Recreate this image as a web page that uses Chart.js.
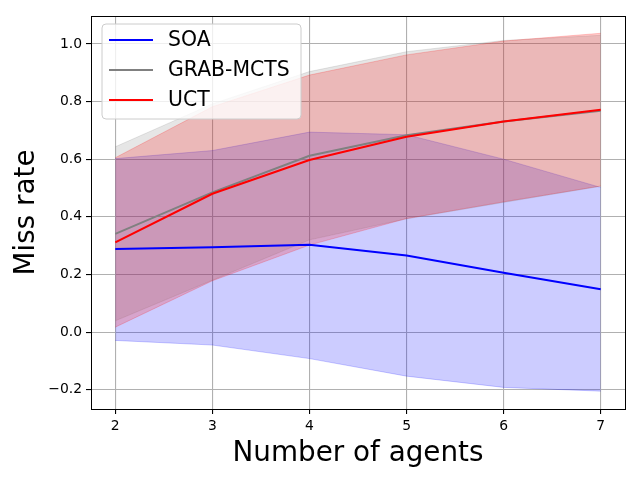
<!DOCTYPE html>
<html>
<head>
<meta charset="utf-8">
<script src="https://cdn.jsdelivr.net/npm/chart.js@4"></script>
<style>
  html, body { margin: 0; padding: 0; background: #fff; }
  #wrap { width: 640px; height: 480px; }
</style>
</head>
<body>
<div id="wrap"><canvas id="chart" width="640" height="480"></canvas></div>
<script>
// data
const agents = [2, 3, 4, 5, 6, 7];
const xTicks = [2, 3, 4, 5, 6, 7];
const yTicks = [-0.2, 0.0, 0.2, 0.4, 0.6, 0.8, 1.0];

const soaMean  = [0.288, 0.294, 0.303, 0.266, 0.206, 0.149];
const soaUpper = [0.602, 0.630, 0.694, 0.685, 0.600, 0.502];
const soaLower = [-0.029, -0.045, -0.092, -0.153, -0.192, -0.205];

const grabMean  = [0.341, 0.485, 0.612, 0.683, 0.731, 0.768];
const grabUpper = [0.643, 0.792, 0.904, 0.973, 1.012, 1.030];
const grabLower = [0.039, 0.180, 0.320, 0.393, 0.450, 0.506];

const uctMean  = [0.311, 0.480, 0.597, 0.678, 0.731, 0.772];
const uctUpper = [0.605, 0.782, 0.892, 0.962, 1.010, 1.037];
const uctLower = [0.017, 0.178, 0.302, 0.394, 0.452, 0.507];

const legendNames = ['SOA', 'GRAB-MCTS', 'UCT'];
const lineColors = ['#0000ff', '#808080', '#ff0000'];

const pts = arr => agents.map((a, i) => ({ x: a, y: arr[i] }));
const FONT = 'DejaVu Sans';

function band(upper, lower, rgb, order) {
    const c = `rgba(${rgb},0.2)`;
    return [
        { data: pts(upper), borderColor: c, backgroundColor: c, borderWidth: 1,
          pointRadius: 0, fill: '+1', order: order, tension: 0 },
        { data: pts(lower), borderColor: c, backgroundColor: c, borderWidth: 1,
          pointRadius: 0, fill: false, order: order, tension: 0 }
    ];
}

function line(arr, color, order) {
    return { data: pts(arr), borderColor: color, backgroundColor: color, borderWidth: 2,
             pointRadius: 0, fill: false, order: order, tension: 0 };
}

// top and right spines
const frame = {
    id: 'frame',
    afterDraw(chart) {
        const { ctx, chartArea: a } = chart;
        ctx.save();
        ctx.strokeStyle = '#000';
        ctx.lineWidth = 1;
        ctx.strokeRect(a.left + 0.5, a.top + 0.5, a.right - a.left, a.bottom - a.top);
        ctx.restore();
    }
};

// matplotlib style legend in the upper left
const mplLegend = {
    id: 'mplLegend',
    afterDraw(chart) {
        const ctx = chart.ctx;
        ctx.save();
        const x = 102, y = 24, w = 199, h = 95, r = 4;
        ctx.beginPath();
        ctx.moveTo(x + r, y);
        ctx.arcTo(x + w, y, x + w, y + h, r);
        ctx.arcTo(x + w, y + h, x, y + h, r);
        ctx.arcTo(x, y + h, x, y, r);
        ctx.arcTo(x, y, x + w, y, r);
        ctx.closePath();
        ctx.fillStyle = 'rgba(255,255,255,0.8)';
        ctx.fill();
        ctx.strokeStyle = '#cccccc';
        ctx.lineWidth = 1;
        ctx.stroke();
        ctx.font = `20.4px "${FONT}"`;
        ctx.textBaseline = 'middle';
        ctx.fillStyle = '#000';
        legendNames.forEach((name, i) => {
            const ly = 40 + i * 30;
            ctx.beginPath();
            ctx.moveTo(109, ly);
            ctx.lineTo(153, ly);
            ctx.strokeStyle = lineColors[i];
            ctx.lineWidth = 2;
            ctx.stroke();
            ctx.fillText(name, 168, ly + 1);
        });
        ctx.restore();
    }
};

new Chart(document.getElementById('chart'), {
    type: 'line',
    data: {
        datasets: [
            ...band(soaUpper, soaLower, '0,0,255', 6),
            ...band(grabUpper, grabLower, '128,128,128', 5),
            ...band(uctUpper, uctLower, '255,0,0', 4),
            line(soaMean, lineColors[0], 3),
            line(grabMean, lineColors[1], 2),
            line(uctMean, lineColors[2], 1)
        ]
    },
    options: {
        responsive: false,
        animation: false,
        layout: { padding: { top: 16, right: 15, left: 0, bottom: 0 } },
        plugins: {
            legend: { display: false },
            tooltip: { enabled: false }
        },
        scales: {
            x: {
                type: 'linear',
                min: 1.75,
                max: 7.25,
                afterBuildTicks: s => { s.ticks = xTicks.map(v => ({ value: v })); },
                afterFit: s => { s.height = 71; },
                grid: { color: '#b0b0b0', lineWidth: 1.1, tickColor: '#000', tickLength: 5 },
                border: { color: '#000', width: 1 },
                ticks: { color: '#000', font: { family: FONT, size: 13.9 }, padding: 4,
                         maxRotation: 0, callback: v => String(v) },
                title: { display: true, text: 'Number of agents', color: '#000',
                         font: { family: FONT, size: 27.8 }, padding: { top: 4, bottom: 10 } }
            },
            y: {
                type: 'linear',
                min: -0.267,
                max: 1.097,
                afterBuildTicks: s => { s.ticks = yTicks.map(v => ({ value: v })); },
                afterFit: s => { s.width = 91; },
                grid: { color: '#b0b0b0', lineWidth: 1.1, tickColor: '#000', tickLength: 5 },
                border: { color: '#000', width: 1 },
                ticks: { color: '#000', font: { family: FONT, size: 13.9 }, padding: 4,
                         callback: v => (v < 0 ? '\u2212' : '') + Math.abs(v).toFixed(1) },
                title: { display: true, text: 'Miss rate', color: '#000',
                         font: { family: FONT, size: 27.8 }, padding: { top: 10, bottom: 4 } }
            }
        }
    },
    plugins: [frame, mplLegend]
});
</script>
</body>
</html>
